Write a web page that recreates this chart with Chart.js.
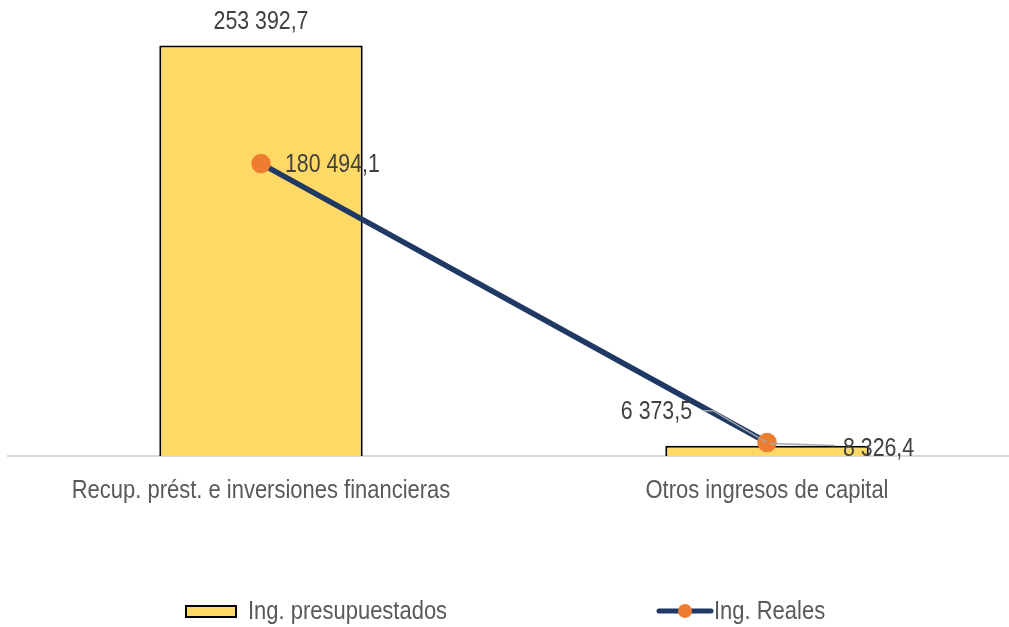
<!DOCTYPE html>
<html>
<head>
<meta charset="utf-8">
<script src="https://cdn.jsdelivr.net/npm/chart.js@4.4.1/dist/chart.umd.min.js"></script>
<style>
  html, body { margin: 0; padding: 0; background: #fff; overflow: hidden; }
  #wrap { width: 1020px; height: 627px; }
</style>
</head>
<body>
<div id="wrap"><canvas id="c" width="1020" height="627"></canvas></div>
<script>
// datos
const CATEGORIES = ['Recup. prést. e inversiones financieras', 'Otros ingresos de capital'];
const PRESUPUESTADOS = [253392.7, 6373.5];
const REALES = [180494.1, 8326.4];
const SERIES_LABELS = ['Ing. presupuestados', 'Ing. Reales'];

const FONT = '"Liberation Sans", Arial, sans-serif';
const BAR_COLOR = '#FFD966';
const LINE_COLOR = '#1F3864';
const POINT_COLOR = '#ED7D31';
const TEXT_COLOR = '#404040';
const AXIS_TEXT = '#595959';

const fmt = v => v.toFixed(1).replace('.', ',').replace(/\B(?=(\d{3})+(?!\d))/g, ' ');

// texto comprimido tipo Arial Narrow
function narrowText(ctx, text, x, y, align, size, color, squeeze) {
  ctx.save();
  ctx.font = `${size}px ${FONT}`;
  ctx.fillStyle = color;
  ctx.textBaseline = 'middle';
  ctx.textAlign = align;
  ctx.translate(x, y);
  ctx.scale(squeeze, 1);
  ctx.fillText(text, 0, 0);
  ctx.restore();
}

// etiquetas de datos, eje x y leyenda dibujadas a mano
const labelsPlugin = {
  id: 'labels',
  afterDatasetsDraw(chart) {
    const ctx = chart.ctx;
    const bars = chart.getDatasetMeta(0).data;
    const pts = chart.getDatasetMeta(1).data;

    // líneas guía
    ctx.save();
    ctx.strokeStyle = '#A6A6A6';
    ctx.lineWidth = 1.5;
    ctx.beginPath();
    ctx.moveTo(bars[1].x - 64, bars[1].y - 35);
    ctx.lineTo(bars[1].x - 54, bars[1].y - 35);
    ctx.lineTo(bars[1].x, bars[1].y - 3);
    ctx.stroke();
    ctx.beginPath();
    ctx.moveTo(pts[1].x + 3, pts[1].y + 1);
    ctx.lineTo(pts[1].x + 68, pts[1].y + 3);
    ctx.stroke();
    ctx.restore();

    narrowText(ctx, fmt(PRESUPUESTADOS[0]), bars[0].x, bars[0].y - 24, 'center', 26, TEXT_COLOR, 0.82);
    narrowText(ctx, fmt(REALES[0]), pts[0].x + 24, pts[0].y + 1, 'left', 26, TEXT_COLOR, 0.82);
    narrowText(ctx, fmt(PRESUPUESTADOS[1]), bars[1].x - 75, bars[1].y - 34, 'right', 26, TEXT_COLOR, 0.82);
    narrowText(ctx, fmt(REALES[1]), pts[1].x + 76, pts[1].y + 6, 'left', 26, TEXT_COLOR, 0.82);

    // etiquetas del eje x
    const xs = chart.scales.x;
    CATEGORIES.forEach((c, i) => {
      narrowText(ctx, c, xs.getPixelForTick(i), xs.top + 35, 'center', 26, AXIS_TEXT, 0.845);
    });
  },
  afterDraw(chart) {
    const ctx = chart.ctx;
    const y = 611;
    ctx.save();
    ctx.fillStyle = BAR_COLOR;
    ctx.fillRect(186, y - 5, 50, 11);
    ctx.strokeStyle = '#000';
    ctx.lineWidth = 2;
    ctx.strokeRect(186, y - 5, 50, 11);
    ctx.strokeStyle = LINE_COLOR;
    ctx.lineWidth = 5;
    ctx.lineCap = 'round';
    ctx.beginPath();
    ctx.moveTo(659, y);
    ctx.lineTo(711, y);
    ctx.stroke();
    ctx.fillStyle = POINT_COLOR;
    ctx.beginPath();
    ctx.arc(685, y, 7, 0, Math.PI * 2);
    ctx.fill();
    ctx.restore();
    narrowText(ctx, SERIES_LABELS[0], 248, y + 1, 'left', 26, AXIS_TEXT, 0.845);
    narrowText(ctx, SERIES_LABELS[1], 714, y + 1, 'left', 26, AXIS_TEXT, 0.845);
  }
};

new Chart(document.getElementById('c'), {
  data: {
    labels: CATEGORIES,
    datasets: [
      {
        type: 'bar',
        label: SERIES_LABELS[0],
        data: PRESUPUESTADOS,
        backgroundColor: BAR_COLOR,
        borderColor: '#000',
        borderWidth: 2,
        barPercentage: 0.402,
        categoryPercentage: 1,
        order: 2,
      },
      {
        type: 'line',
        label: SERIES_LABELS[1],
        data: REALES,
        borderColor: LINE_COLOR,
        borderWidth: 5.5,
        pointBackgroundColor: POINT_COLOR,
        pointBorderColor: POINT_COLOR,
        pointRadius: 7,
        tension: 0,
        clip: false,
        order: 1,
      },
    ],
  },
  plugins: [labelsPlugin],
  options: {
    responsive: false,
    animation: false,
    layout: { autoPadding: false, padding: { left: 8, right: 0, top: 3, bottom: 0 } },
    plugins: {
      legend: { display: false },
      tooltip: { enabled: false },
    },
    scales: {
      y: { display: false, min: 0, max: 279600 },
      x: {
        afterFit: s => { s.height = 171; },
        grid: { display: false, drawTicks: false },
        border: { display: true, color: '#D9D9D9', width: 2 },
        ticks: { display: false },
      },
    },
  },
});
</script>
</body>
</html>
